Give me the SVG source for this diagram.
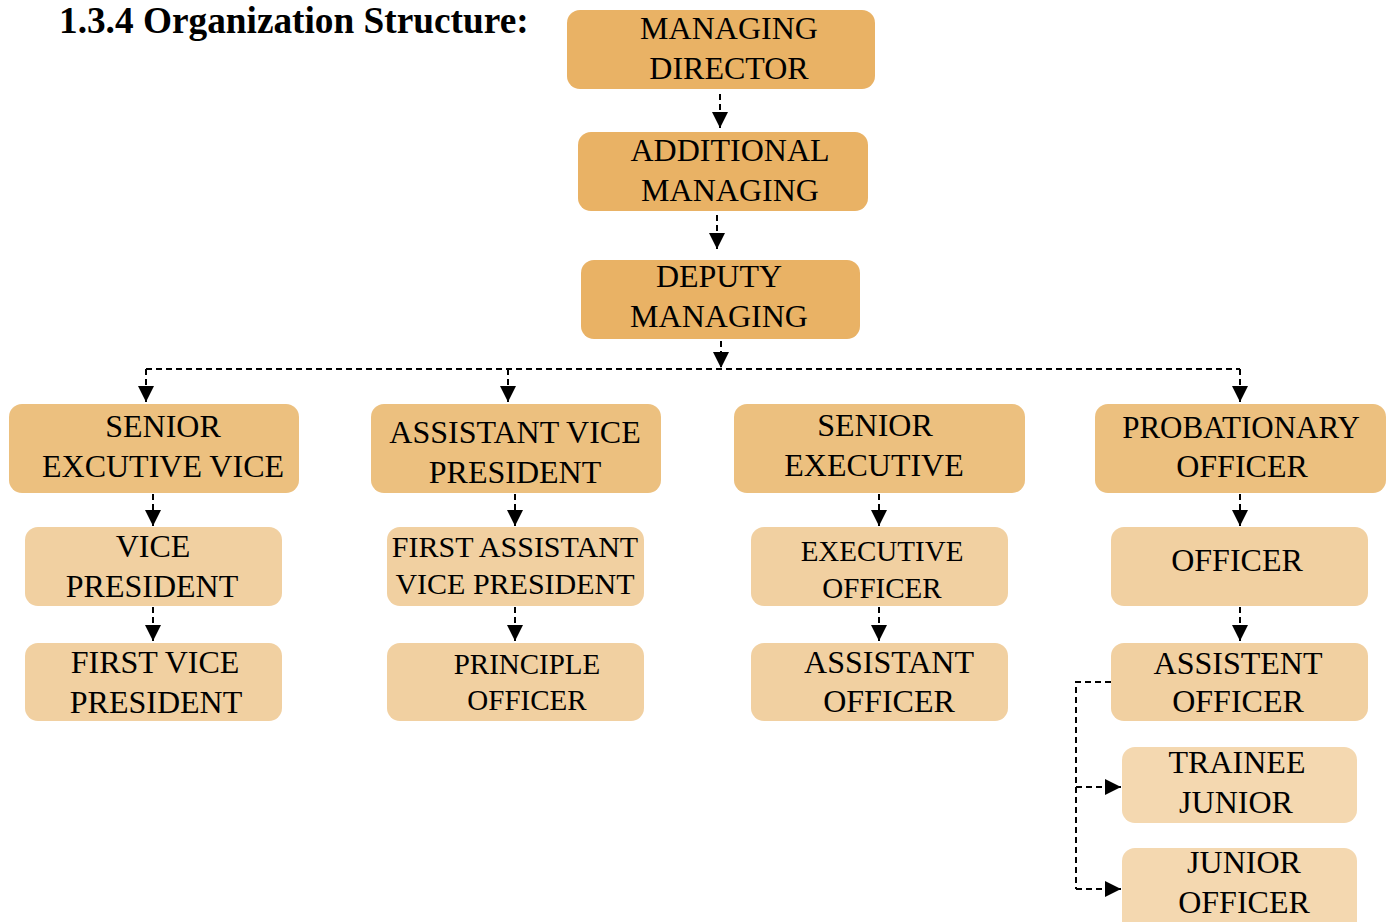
<svg xmlns="http://www.w3.org/2000/svg" width="1394" height="922" viewBox="0 0 1394 922">
<defs>
<marker id="ah" viewBox="0 0 16 16" refX="16" refY="8" markerWidth="16" markerHeight="16" markerUnits="userSpaceOnUse" orient="auto">
<path d="M0,0 L16,8 L0,16 Z" fill="#000"/>
</marker>
</defs>
<style>
text{font-family:"Liberation Serif","Times New Roman",serif;fill:#000;text-anchor:middle;font-size:32px}
.t{font-weight:bold;font-size:37.3px;text-anchor:start}
.s{font-size:30px}
.s29{font-size:29px}
.l1{fill:#E9B265}
.l2{fill:#ECC07F}
.l3{fill:#F1D0A1}
.l4{fill:#F4D8B0}
.c{fill:none;stroke:#000;stroke-width:2;stroke-dasharray:6 4}
.a{marker-end:url(#ah)}
</style>
<rect width="1394" height="922" fill="#fff"/>
<text class="t" x="59" y="33">1.3.4 Organization Structure:</text>

<g id="connectors">
<path class="c a" d="M720,94 V128"/>
<path class="c a" d="M717,215 V249"/>
<path class="c a" d="M721,341 V368"/>
<path class="c" d="M146,369 H1240"/>
<path class="c a" d="M146,369 V402"/>
<path class="c a" d="M508,369 V402"/>
<path class="c a" d="M1240,369 V402"/>
<path class="c a" d="M153,494 V526"/>
<path class="c a" d="M515,494 V526"/>
<path class="c a" d="M879,494 V526"/>
<path class="c a" d="M1240,494 V526"/>
<path class="c a" d="M153,607 V641"/>
<path class="c a" d="M515,607 V641"/>
<path class="c a" d="M879,607 V641"/>
<path class="c a" d="M1240,607 V641"/>
<path class="c" d="M1111,682 H1076 V889"/>
<path class="c a" d="M1076,787 H1121"/>
<path class="c a" d="M1076,889 H1121"/>
</g>

<g id="managing-director">
<rect class="l1" x="567" y="10" width="308" height="79" rx="13"/>
<text x="729" y="39">MANAGING</text>
<text x="729" y="79">DIRECTOR</text>
</g>
<g id="additional-managing">
<rect class="l1" x="578" y="132" width="290" height="79" rx="13"/>
<text x="730" y="161">ADDITIONAL</text>
<text x="730" y="201">MANAGING</text>
</g>
<g id="deputy-managing">
<rect class="l1" x="581" y="260" width="279" height="79" rx="13"/>
<text x="719" y="287">DEPUTY</text>
<text x="719" y="327">MANAGING</text>
</g>

<g id="senior-executive-vice">
<rect class="l2" x="9" y="404" width="290" height="89" rx="13"/>
<text x="163" y="437">SENIOR</text>
<text x="163" y="477">EXCUTIVE VICE</text>
</g>
<g id="assistant-vice-president">
<rect class="l2" x="371" y="404" width="290" height="89" rx="13"/>
<text x="515" y="443">ASSISTANT VICE</text>
<text x="515" y="483">PRESIDENT</text>
</g>
<g id="senior-executive">
<rect class="l2" x="734" y="404" width="291" height="89" rx="13"/>
<text x="875" y="436">SENIOR</text>
<text x="874" y="476">EXECUTIVE</text>
</g>
<g id="probationary-officer">
<rect class="l2" x="1095" y="404" width="291" height="89" rx="13"/>
<text x="1241" y="438" style="font-size:31px">PROBATIONARY</text>
<text x="1242" y="477">OFFICER</text>
</g>

<g id="vice-president">
<rect class="l3" x="25" y="527" width="257" height="79" rx="13"/>
<text x="153" y="557">VICE</text>
<text x="152" y="597">PRESIDENT</text>
</g>
<g id="first-assistant-vice-president">
<rect class="l3" x="387" y="527" width="257" height="79" rx="13"/>
<text class="s" x="515" y="557">FIRST ASSISTANT</text>
<text class="s" x="515" y="594">VICE PRESIDENT</text>
</g>
<g id="executive-officer">
<rect class="l3" x="751" y="527" width="257" height="79" rx="13"/>
<text class="s29" x="882" y="561">EXECUTIVE</text>
<text class="s29" x="882" y="598">OFFICER</text>
</g>
<g id="officer">
<rect class="l3" x="1111" y="527" width="257" height="79" rx="13"/>
<text x="1237" y="571">OFFICER</text>
</g>

<g id="first-vice-president">
<rect class="l3" x="25" y="643" width="257" height="78" rx="13"/>
<text x="155" y="673">FIRST VICE</text>
<text x="156" y="713">PRESIDENT</text>
</g>
<g id="principle-officer">
<rect class="l3" x="387" y="643" width="257" height="78" rx="13"/>
<text class="s29" x="527" y="674">PRINCIPLE</text>
<text class="s29" x="527" y="710">OFFICER</text>
</g>
<g id="assistant-officer">
<rect class="l3" x="751" y="643" width="257" height="78" rx="13"/>
<text x="889" y="673">ASSISTANT</text>
<text x="889" y="712">OFFICER</text>
</g>
<g id="assistent-officer">
<rect class="l3" x="1111" y="643" width="257" height="78" rx="13"/>
<text x="1238" y="674">ASSISTENT</text>
<text x="1238" y="712">OFFICER</text>
</g>

<g id="trainee-junior">
<rect class="l4" x="1122" y="747" width="235" height="76" rx="13"/>
<text x="1237" y="773">TRAINEE</text>
<text x="1236" y="813">JUNIOR</text>
</g>
<g id="junior-officer">
<rect class="l4" x="1122" y="848" width="235" height="90" rx="13"/>
<text x="1244" y="873">JUNIOR</text>
<text x="1244" y="913">OFFICER</text>
</g>
</svg>
